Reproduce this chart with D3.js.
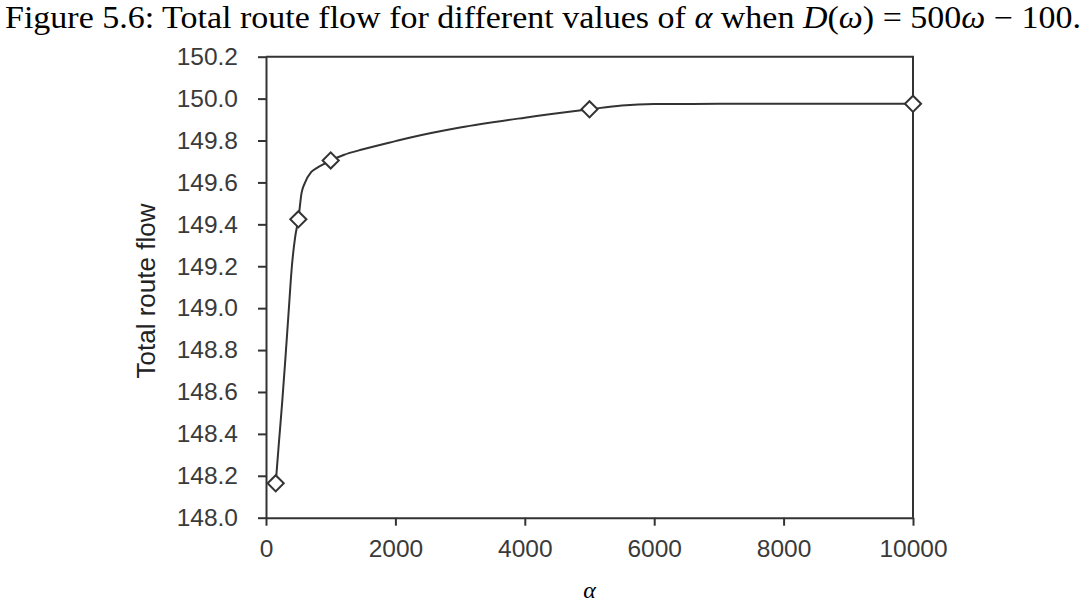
<!DOCTYPE html>
<html>
<head>
<meta charset="utf-8">
<script src="https://cdn.jsdelivr.net/npm/d3@7/dist/d3.min.js"></script>
<style>
  html, body { margin: 0; padding: 0; background: #fff; }
  svg { display: block; }
</style>
</head>
<body>
<svg id="chart" width="1088" height="610"></svg>
<script>
// Markers: computed runs
const markerAlpha = [150, 500, 1000, 5000, 10000];
const markerFlow  = [148.164, 149.424, 149.705, 149.949, 149.975];

// Smoothed line through the finer sampling of alpha
const curveAlpha = [150, 200, 250, 300, 350, 400, 450, 500, 550, 600, 700, 800, 900, 1000,
                    1200, 1500, 2000, 2200, 3000, 4000, 5000, 5500, 6000, 7000, 8000, 9000, 10000];
const curveFlow  = [148.164, 148.36, 148.55, 148.76, 148.983, 149.20, 149.338, 149.424, 149.55, 149.597,
                    149.650, 149.672, 149.688, 149.705, 149.731, 149.758, 149.797, 149.812,
                    149.862, 149.909, 149.949, 149.967, 149.974, 149.975, 149.975, 149.975, 149.975];

const xTicks = [0, 2000, 4000, 6000, 8000, 10000];
const yTicks = [148.0, 148.2, 148.4, 148.6, 148.8, 149.0, 149.2, 149.4, 149.6, 149.8, 150.0, 150.2];

const svg = d3.select("#chart");
const plotLeft = 266, plotRight = 913, plotTop = 56.7, plotBottom = 517.7;
const ink = "#333";
const sans = "'Liberation Sans', Arial, sans-serif";
const serif = "'Liberation Serif', 'Times New Roman', serif";

const x = d3.scaleLinear().domain([0, 10000]).range([plotLeft, plotRight]);
const y = d3.scaleLinear().domain([148.0, 150.2]).range([plotBottom, plotTop]);

// Caption
const cap = svg.append("text")
  .attr("x", 5).attr("y", 28)
  .attr("font-family", serif).attr("font-size", 31).attr("fill", "#000")
  .attr("textLength", 1076).attr("lengthAdjust", "spacingAndGlyphs");
cap.append("tspan").text("Figure 5.6: Total route flow for different values of ");
cap.append("tspan").attr("font-style", "italic").text("α");
cap.append("tspan").text(" when ");
cap.append("tspan").attr("font-style", "italic").text("D");
cap.append("tspan").text("(");
cap.append("tspan").attr("font-style", "italic").text("ω");
cap.append("tspan").text(") = 500");
cap.append("tspan").attr("font-style", "italic").text("ω");
cap.append("tspan").text(" − 100.");

// Plot frame (top and right edges)
svg.append("path")
  .attr("d", `M${plotLeft},${plotTop}H${plotRight}V${plotBottom}`)
  .attr("fill", "none").attr("stroke", ink).attr("stroke-width", 2);

// Axes
const yAxis = svg.append("g")
  .attr("transform", `translate(${plotLeft},0)`)
  .call(d3.axisLeft(y).tickValues(yTicks).tickSize(8).tickPadding(20)
        .tickFormat(d3.format(".1f")).tickSizeOuter(0));
const xAxis = svg.append("g")
  .attr("transform", `translate(0,${plotBottom})`)
  .call(d3.axisBottom(x).tickValues(xTicks).tickSize(8).tickPadding(14)
        .tickFormat(d3.format("d")).tickSizeOuter(0));

[yAxis, xAxis].forEach(g => {
  g.select(".domain").attr("stroke", ink).attr("stroke-width", 2);
  g.selectAll(".tick line").attr("stroke", ink).attr("stroke-width", 2);
  g.selectAll(".tick text").attr("fill", "#3a3a3a")
    .attr("font-family", sans).attr("font-size", 24.5);
});

// Axis titles
svg.append("text")
  .attr("transform", `translate(155,291) rotate(-90)`)
  .attr("text-anchor", "middle")
  .attr("font-family", sans).attr("font-size", 26).attr("fill", "#222")
  .text("Total route flow");

svg.append("text")
  .attr("x", (plotLeft + plotRight) / 2).attr("y", 598)
  .attr("text-anchor", "middle")
  .attr("font-family", serif).attr("font-style", "italic")
  .attr("font-size", 24).attr("fill", "#000")
  .text("α");

// Flow curve
const line = d3.line()
  .x((d, i) => x(curveAlpha[i]))
  .y(d => y(d))
  .curve(d3.curveMonotoneX);
svg.append("path")
  .datum(curveFlow)
  .attr("d", line)
  .attr("fill", "none").attr("stroke", ink).attr("stroke-width", 2);

// Diamond markers
const diamond = d3.symbol().type(d3.symbolSquare).size(130);
svg.append("g").selectAll("path")
  .data(markerFlow)
  .join("path")
  .attr("d", diamond)
  .attr("transform", (d, i) => `translate(${x(markerAlpha[i])},${y(d)}) rotate(45)`)
  .attr("fill", "#fff").attr("stroke", ink).attr("stroke-width", 2);
</script>
</body>
</html>
